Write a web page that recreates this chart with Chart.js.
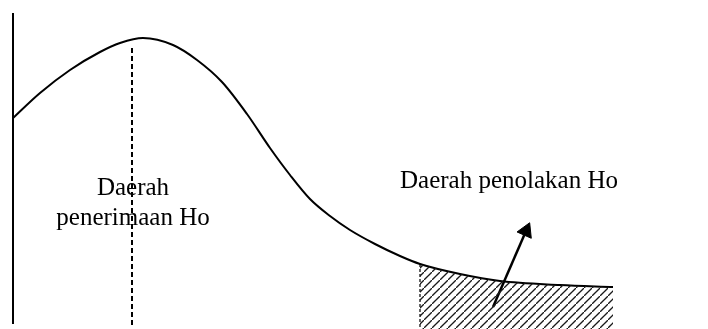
<!DOCTYPE html>
<html>
<head>
<meta charset="utf-8">
<script src="https://cdn.jsdelivr.net/npm/chart.js@4.4.1/dist/chart.umd.min.js"></script>
<style>
    html, body { margin: 0; padding: 0; background: #ffffff; }
    #wrap { width: 708px; height: 329px; }
</style>
</head>
<body>
<div id="wrap"><canvas id="myChart" width="708" height="329"></canvas></div>
<script>
// curve (x, height above the bottom)
const curveX = [13, 40, 70, 100, 120, 143, 173, 197, 222, 247, 270, 290, 310, 330, 350, 375, 400, 420, 460, 500, 560, 613];
const curveY = [211, 236, 259, 277, 286, 291, 284, 269, 247, 215, 181, 154, 130, 113, 99, 85, 73, 65, 55, 48, 44, 42];

// rejection region (tail of the curve)
const tailX = [420, 460, 500, 560, 613];
const tailY = [65, 55, 48, 44, 42];

// guide lines
const axisLineX = [13, 13];
const axisLineY = [316, 5];
const modeLineX = [132, 132];
const modeLineY = [281, 2];
const cutLineX = [420, 420];
const cutLineY = [65, 0];

// arrow from the region to its label
const arrowX = [493, 526];
const arrowY = [22, 98];

// labels
const labelAccept = ['Daerah', 'penerimaan Ho'];
const labelReject = 'Daerah penolakan Ho';

function toPoints(xs, ys) {
    return xs.map((x, i) => ({ x: x, y: ys[i] }));
}

// diagonal hatch for the shaded area
function makeHatch() {
    const c = document.createElement('canvas');
    c.width = 8;
    c.height = 8;
    const g = c.getContext('2d');
    g.strokeStyle = '#1a1a1a';
    g.lineWidth = 1.3;
    g.beginPath();
    g.moveTo(-2, 10);
    g.lineTo(10, -2);
    g.stroke();
    return g.createPattern(c, 'repeat');
}

// plugin for the text labels
const labelPlugin = {
    id: 'labels',
    afterDatasetsDraw(chart) {
        const ctx = chart.ctx;
        const xs = chart.scales.x;
        const ys = chart.scales.y;
        ctx.save();
        ctx.fillStyle = '#000';
        ctx.font = '25px "Liberation Serif", "Times New Roman", serif';
        ctx.textAlign = 'center';
        ctx.textBaseline = 'alphabetic';
        ctx.fillText(labelAccept[0], xs.getPixelForValue(133), ys.getPixelForValue(134));
        ctx.fillText(labelAccept[1], xs.getPixelForValue(133), ys.getPixelForValue(104));
        ctx.textAlign = 'right';
        ctx.fillText(labelReject, xs.getPixelForValue(618), ys.getPixelForValue(141));
        ctx.restore();
    }
};

const ctx = document.getElementById('myChart').getContext('2d');

new Chart(ctx, {
    type: 'line',
    data: {
        datasets: [
            {
                // hatched tail
                data: toPoints(tailX, tailY),
                borderWidth: 0,
                borderColor: 'rgba(0,0,0,0)',
                backgroundColor: makeHatch(),
                fill: 'origin',
                cubicInterpolationMode: 'monotone',
                pointRadius: 0
            },
            {
                // main curve
                data: toPoints(curveX, curveY),
                borderColor: '#000',
                borderWidth: 2,
                fill: false,
                cubicInterpolationMode: 'monotone',
                pointRadius: 0
            },
            {
                data: toPoints(axisLineX, axisLineY),
                borderColor: '#000',
                borderWidth: 2,
                pointRadius: 0
            },
            {
                data: toPoints(modeLineX, modeLineY),
                borderColor: '#000',
                borderWidth: 2,
                borderDash: [5, 3],
                pointRadius: 0
            },
            {
                data: toPoints(cutLineX, cutLineY),
                borderColor: '#333',
                borderWidth: 1.5,
                borderDash: [3, 2],
                pointRadius: 0
            },
            {
                // arrow shaft + head
                data: toPoints(arrowX, arrowY),
                borderColor: '#000',
                borderWidth: 2.5,
                pointStyle: 'triangle',
                pointRadius: [0, 9],
                pointRotation: 24,
                pointBackgroundColor: '#000',
                pointBorderColor: '#000',
                pointBorderWidth: 1
            }
        ]
    },
    options: {
        responsive: false,
        animation: false,
        layout: { padding: 0, autoPadding: false },
        plugins: {
            legend: { display: false },
            tooltip: { enabled: false },
            title: { display: false }
        },
        scales: {
            x: { type: 'linear', min: 0, max: 708, display: false },
            y: { type: 'linear', min: 0, max: 329, display: false }
        }
    },
    plugins: [labelPlugin]
});
</script>
</body>
</html>
